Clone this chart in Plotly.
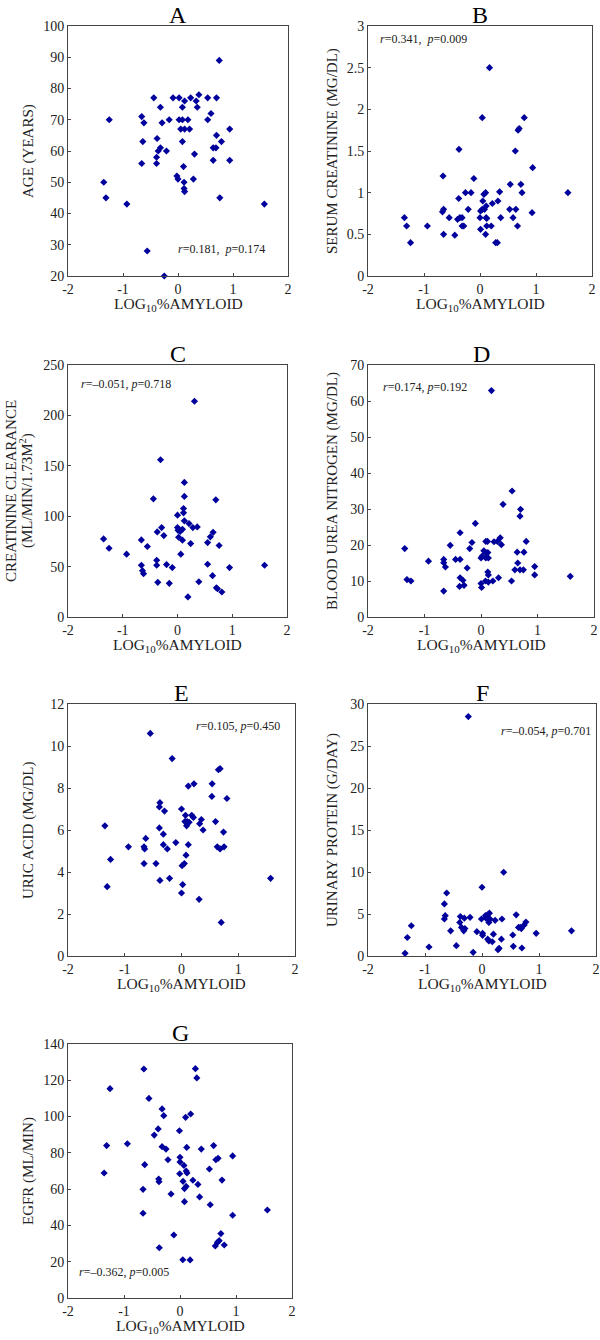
"""Seven scatter panels: renal and demographic measures against log10 % amyloid."""

import plotly.graph_objects as go

# ---- data ----
A_X = [0.75, -0.44, -0.09, 0.02, 0.23, 0.38, 0.54, 0.70, 0.12, 0.33, -0.32, 0.08, 0.35,
       -1.25, -0.16, 0.02, 0.08, 0.18, 0.54, -0.66, -0.62, -0.29, 0.60, 0.05, 0.12, 0.21,
       0.94, -0.38, -0.64, 0.08, 0.79, 0.70, -0.32, -0.36, -0.21, 0.64, 0.69, 0.30, -0.39,
       -0.39, -0.66, 0.64, 0.94, 0.10, -0.02, 0.00, 0.28, 0.11, 0.11, 0.12, -1.35, -1.31,
       -0.93, 0.76, 1.57, -0.56, -0.25]
A_Y = [89, 77, 77, 77, 77, 78, 77, 77, 76, 76, 74, 74, 74,
       70, 70, 70, 70, 70, 70, 71, 69, 69, 72, 67, 67, 67,
       67, 64, 63, 63, 63, 65, 61, 60, 60, 61, 61, 59, 58,
       56, 56, 57, 57, 55, 52, 51, 51, 50, 48, 47, 50, 45,
       43, 45, 43, 28, 20]

B_X = [0.17, 0.04, 0.79, 0.68, 0.70, -0.375, 0.63, 0.94, -0.66, -0.11, 0.54, 0.73, 1.57,
       0.75, -0.26, -0.16, 0.07, 0.10, 0.35, -0.38, 0.05, 0.32, 0.22, 0.11, -0.21, 0.08,
       -0.65, -0.67, 0.04, 0.01, 0.53, 0.64, 0.93, -0.55, -0.40, -0.36, -0.32, -1.35, 0.00,
       0.11, 0.12, 0.37, 0.59, -1.31, -0.94, -0.32, -0.29, 0.12, 0.20, 0.67, 0.01, -0.65,
       -0.45, 0.10, -1.24, 0.28, 0.31]
B_Y = [2.5, 1.9, 1.9, 1.75, 1.77, 1.52, 1.5, 1.3, 1.2, 1.17, 1.1, 1.1, 1.0,
       1.0, 1.0, 1.0, 0.98, 1.0, 1.01, 0.93, 0.9, 0.9, 0.87, 0.84, 0.8, 0.8,
       0.8, 0.77, 0.8, 0.78, 0.8, 0.8, 0.76, 0.7, 0.68, 0.7, 0.7, 0.7, 0.7,
       0.7, 0.69, 0.7, 0.7, 0.6, 0.6, 0.6, 0.6, 0.6, 0.6, 0.6, 0.56, 0.5,
       0.49, 0.5, 0.4, 0.4, 0.4]

C_X = [0.31, -0.31, 0.125, 0.125, -0.44, 0.70, 0.11, 0.11, 0.00, 0.125, 0.21, -0.29, 0.00,
       0.28, 0.36, 0.09, 0.01, 0.05, -0.37, 0.65, -0.25, 0.02, 0.60, -1.35, -0.66, 0.09,
       0.55, 0.24, 0.76, -0.55, -1.25, -0.93, 0.06, -0.66, -0.38, -0.38, -0.20, -0.095, 0.55,
       0.95, 1.59, -0.64, -0.62, 0.64, -0.36, -0.15, 0.39, 0.71, 0.73, 0.81, 0.19]
C_Y = [214, 156, 133.5, 119.6, 117.2, 116.2, 107.6, 103.3, 101, 95.4, 92.7, 88.7, 88.7,
       88.7, 89.4, 87, 86, 85, 84.4, 84, 80.8, 79.1, 79.5, 77.5, 76.5, 76.2,
       73.8, 72.8, 70.9, 69.9, 68.2, 62.3, 62.3, 51.3, 56.3, 51.3, 52, 49, 52.3,
       49, 51.3, 46, 43, 41, 34.4, 33.4, 35, 29, 28, 24.8, 19.9]

D_X = [0.185, 0.55, 0.39, 0.70, 0.69, -0.10, -0.37, 0.34, 0.085, 0.115, 0.23, 0.29, 0.80,
       0.36, -0.545, -1.35, -0.20, -0.16, 0.05, 0.09, 0.12, 0.64, 0.76, 0.02, 0.00, 0.085,
       0.13, -0.45, -0.37, -0.66, -0.66, -0.93, 0.65, -0.63, -0.245, 0.60, 0.69, 0.75, 0.95,
       0.95, 1.58, 0.12, 0.13, 0.31, -0.37, -0.32, -1.31, -1.24, 0.08, 0.21, 0.54, 0.13,
       0.00, -0.30, -0.38, 0.01, -0.66]
D_Y = [62.9, 35, 31.3, 29.9, 28, 26, 23.4, 22, 21, 21, 20.9, 21, 21,
       20.1, 19.9, 19, 19, 20.7, 18.4, 17.8, 17.9, 18, 18, 16.9, 16.4, 16.4,
       16.4, 16, 16, 16, 15.1, 15.5, 15, 13.9, 13.6, 13.1, 13.1, 13.1, 14,
       11.7, 11.3, 12.5, 11.7, 10.9, 10.9, 10.2, 10.4, 10, 10, 10, 10, 9.7,
       9.3, 8.8, 8.5, 8.2, 7.2]

E_X = [-0.55, -0.165, 0.65, 0.68, 0.22, 0.54, 0.12, 0.535, 0.80, -0.38, -0.39, 0.00, -0.30,
       0.07, 0.18, 0.21, 0.35, 0.06, 0.10, 0.135, 0.60, 0.09, 0.32, -1.35, -0.39, 0.38,
       0.74, -0.63, -0.32, -0.10, -0.32, 0.12, -0.935, -0.66, -0.65, -0.25, 0.63, 0.68, 0.75,
       0.08, -1.25, -0.66, -0.45, 0.05, 0.01, -0.38, -0.21, 1.57, -1.31, 0.02, 0.00, 0.31,
       0.70]
E_Y = [10.6, 9.4, 8.87, 8.92, 8.2, 8.2, 8.09, 7.6, 7.5, 7.3, 7.1, 7.0, 6.9,
       6.7, 6.7, 6.6, 6.5, 6.4, 6.4, 6.37, 6.4, 6.2, 6.3, 6.2, 6.1, 6.0,
       5.9, 5.6, 5.8, 5.4, 5.3, 5.3, 5.2, 5.2, 5.1, 5.1, 5.2, 5.1, 5.2,
       4.8, 4.6, 4.4, 4.4, 4.4, 4.3, 3.6, 3.7, 3.7, 3.3, 3.4, 3.0, 2.7,
       1.6]

F_X = [-0.24, 0.38, 0.00, -0.62, -0.66, -0.645, -0.66, -0.38, -0.31, -0.21, -0.39, -0.01, 0.07,
       0.10, 0.13, 0.12, 0.23, 0.35, 0.60, 0.06, 0.14, 0.12, 0.77, 0.74, 0.69, 0.64,
       0.67, -1.24, -0.36, -0.32, -0.30, -0.55, -1.31, -0.09, 0.01, 0.01, 0.20, 0.34, 0.54,
       0.95, 1.57, 0.10, 0.12, 0.18, -0.93, -0.45, 0.55, 0.70, 0.30, 0.28, -0.155, -1.35]
F_Y = [28.5, 9.97, 8.18, 7.5, 6.2, 4.8, 4.4, 4.7, 4.5, 4.6, 4.0, 4.4, 4.5,
       4.9, 5.1, 4.25, 4.25, 4.4, 4.9, 4.8, 4.4, 4.0, 4.05, 3.7, 3.26, 3.4,
       3.4, 3.6, 3.4, 3.0, 3.26, 3.0, 2.2, 2.9, 2.7, 2.46, 2.6, 2.0, 2.5,
       2.7, 3.0, 2.0, 1.8, 1.7, 1.07, 1.23, 1.15, 0.95, 0.91, 0.75, 0.44, 0.32]

G_X = [-0.645, 0.275, 0.30, -1.25, -0.555, -0.32, -0.29, 0.19, 0.10, -0.39, -0.01, -0.46, -1.31,
       -0.94, -0.32, -0.25, 0.12, 0.38, 0.60, 0.94, 0.00, 0.68, 0.64, -0.215, 0.00, -0.63,
       0.07, 0.525, -1.355, 0.11, 0.125, -0.005, 0.75, -0.38, -0.375, 0.054, 0.23, 0.32, 0.11,
       0.08, -0.66, -0.16, 0.35, 0.54, 0.08, 1.56, 0.94, -0.66, 0.73, -0.11, 0.70, 0.67,
       0.63, 0.79, -0.37, 0.05, 0.18]
G_Y = [126.2, 126.4, 121.3, 115.4, 110, 104.2, 100.5, 101.4, 99.6, 93.2, 92.2, 89.8, 84,
       85, 83.4, 82.1, 83, 82.1, 84, 78.3, 77.6, 77, 76.2, 76.2, 75, 73.5,
       73.1, 71.1, 68.9, 70, 68.9, 68.5, 65, 65.6, 64.1, 64.3, 64.9, 62.6, 61.5,
       60.3, 59.9, 57.3, 55.7, 51.4, 53.1, 48.5, 45.6, 46.7, 35.5, 34.7, 31.6, 30.7,
       28.7, 29.2, 27.7, 21.1, 21]

PANEL_LABELS = ["A", "B", "C", "D", "E", "F", "G"]
Y_TITLES = [
    "AGE (YEARS)",
    "SERUM CREATININE (MG/DL)",
    None,
    "BLOOD UREA NITROGEN (MG/DL)",
    "URIC ACID (MG/DL)",
    "URINARY PROTEIN (G/DAY)",
    "EGFR (ML/MIN)",
]
STATS = [
    "<i>r</i>=0.181,  <i>p</i>=0.174",
    "<i>r</i>=0.341,  <i>p</i>=0.009",
    "<i>r</i>=\u20130.051, <i>p</i>=0.718",
    "<i>r</i>=0.174, <i>p</i>=0.192",
    "<i>r</i>=0.105, <i>p</i>=0.450",
    "<i>r</i>=\u20130.054, <i>p</i>=0.701",
    "<i>r</i>=\u20130.362, <i>p</i>=0.005",
]
Y_RANGES = [(20, 100), (0, 3), (0, 250), (0, 70), (0, 12), (0, 30), (0, 140)]
Y_DTICKS = [10, 0.5, 50, 10, 2, 5, 20]
X_TICKS = [-2, -1, 0, 1, 2]
X_TICK_TEXT = ["-2", "-1", "0", "1", "2"]
SERIES = [(A_X, A_Y), (B_X, B_Y), (C_X, C_Y), (D_X, D_Y), (E_X, E_Y), (F_X, F_Y), (G_X, G_Y)]

# ---- layout geometry, in pixels of the 600x1340 page ----
W, H = 600, 1340
BOXES = [  # left, right, top, bottom
    (68, 288, 26, 276),
    (368, 592, 26, 276),
    (68, 287, 365, 617),
    (368, 594, 365, 617),
    (68, 295, 704, 956),
    (368, 596, 704, 956),
    (68, 292, 1044, 1298),
]
STAT_POS = [(176, 249), (378, 39), (79, 384), (381, 387), (194, 726), (499, 731), (77, 1272)]
YTITLE_X = [28, 332, None, 332, 28, 332, 28]

SERIF = "Liberation Serif, Times New Roman, serif"
INK = "#222222"
DOT = "#00009C"


def px(x):
    return x / W


def py(y):
    return 1 - y / H


fig = go.Figure()
annotations = []

for i, (xs, ys) in enumerate(SERIES):
    n = "" if i == 0 else str(i + 1)
    left, right, top, bottom = BOXES[i]
    fig.add_trace(
        go.Scatter(
            x=xs, y=ys, mode="markers", xaxis="x" + n, yaxis="y" + n,
            marker={"symbol": "diamond", "size": 5.5, "color": DOT, "line": {"width": 0}},
            showlegend=False, cliponaxis=False,
        )
    )
    axis_common = dict(
        showgrid=False, zeroline=False, showline=True, mirror=True, automargin=False,
        linecolor="#444444", linewidth=1, ticks="inside", ticklen=3,
        tickcolor="#444444", tickfont={"family": SERIF, "size": 14, "color": INK},
    )
    fig.update_layout(**{
        "xaxis" + n: dict(
            axis_common, domain=[px(left), px(right)], anchor="y" + n,
            range=[-2, 2], tickvals=X_TICKS, ticktext=X_TICK_TEXT,
        ),
        "yaxis" + n: dict(
            axis_common, domain=[py(bottom), py(top)], anchor="x" + n,
            range=list(Y_RANGES[i]), dtick=Y_DTICKS[i], tick0=0,
        ),
    })

    mid_x = (left + right) / 2
    mid_y = (top + bottom) / 2
    # panel letter
    annotations.append(dict(
        text=PANEL_LABELS[i], x=px(mid_x), y=py(top - 11), xref="paper", yref="paper",
        showarrow=False, xanchor="center", yanchor="middle",
        font={"family": SERIF, "size": 24, "color": "#000000"},
    ))
    # x title
    annotations.append(dict(
        text="LOG<sub>10</sub>%AMYLOID", x=px(mid_x), y=py(bottom + 28),
        xref="paper", yref="paper", showarrow=False, xanchor="center", yanchor="middle",
        font={"family": SERIF, "size": 15.5, "color": INK},
    ))
    # y title
    if Y_TITLES[i] is not None:
        annotations.append(dict(
            text=Y_TITLES[i], x=px(YTITLE_X[i]), y=py(mid_y), textangle=-90,
            xref="paper", yref="paper", showarrow=False, xanchor="center", yanchor="middle",
            font={"family": SERIF, "size": 15, "color": INK},
        ))
    else:
        for line, lx in (("CREATININE CLEARANCE", 11), ("(ML/MIN/1.73M<sup>2</sup>)", 26)):
            annotations.append(dict(
                text=line, x=px(lx), y=py(mid_y), textangle=-90,
                xref="paper", yref="paper", showarrow=False, xanchor="center", yanchor="middle",
                font={"family": SERIF, "size": 15, "color": INK},
            ))
    # correlation note
    sx, sy = STAT_POS[i]
    annotations.append(dict(
        text=STATS[i], x=px(sx), y=py(sy), xref="paper", yref="paper",
        showarrow=False, xanchor="left", yanchor="middle",
        font={"family": SERIF, "size": 12, "color": INK},
    ))

fig.update_layout(
    width=W, height=H,
    margin={"l": 0, "r": 0, "t": 0, "b": 0},
    paper_bgcolor="white", plot_bgcolor="white",
    annotations=annotations,
)

# the page body carries a default 8px margin; drop it so the figure sits at the origin
fig.write_html(
    "out.html",
    config={"displayModeBar": False},
    post_script="document.body.style.margin = '0';",
)
